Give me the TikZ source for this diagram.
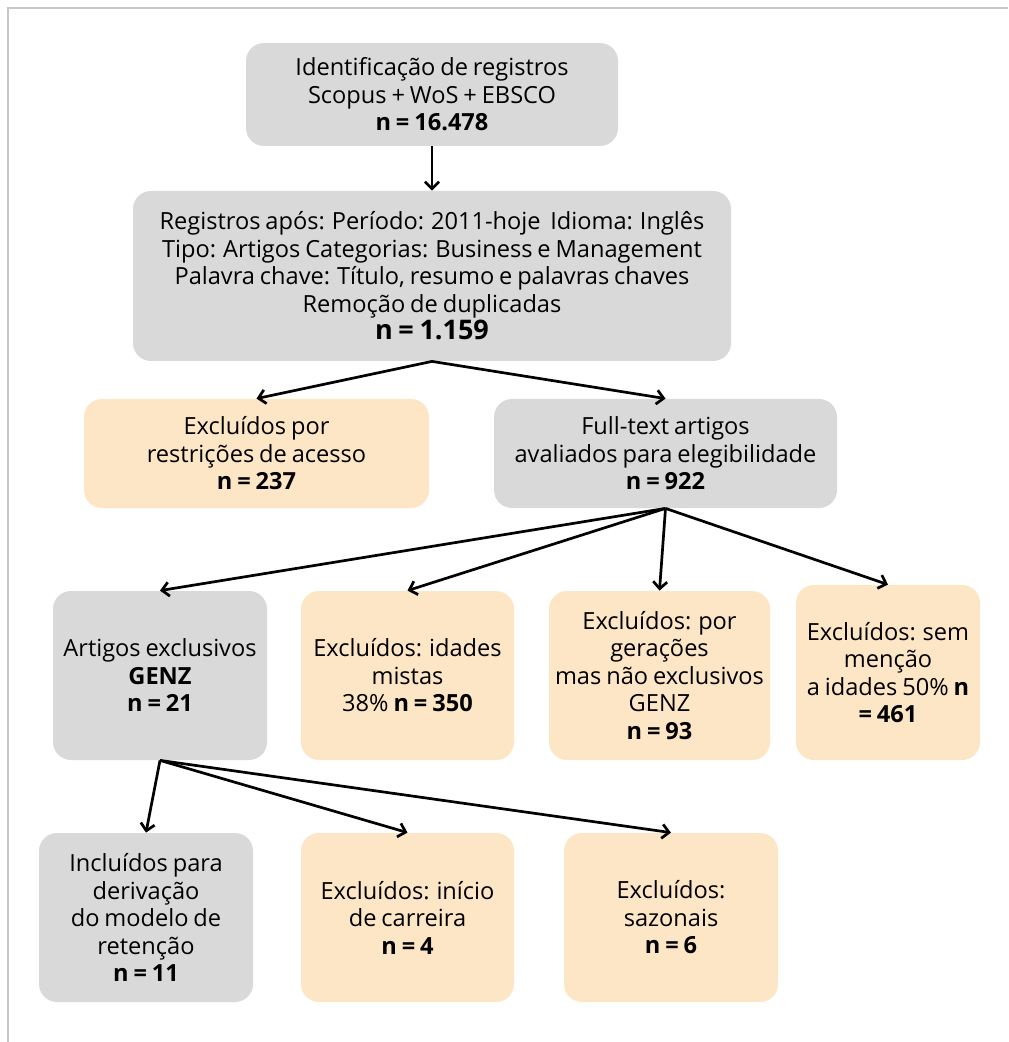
\documentclass[tikz,border=0pt]{standalone}
\usepackage{fontspec}
\setmainfont{Open Sans}[WordSpace=0.8]
\usepackage{tikz}
\usetikzlibrary{positioning,arrows.meta}
\definecolor{boxgrey}{RGB}{217,217,217}
\definecolor{boxpeach}{RGB}{253,230,197}
\definecolor{framegrey}{RGB}{200,200,200}
\tikzset{
	box/.style={rounded corners=9pt, align=center, inner sep=0pt, font=\fontsize{11.8}{13.75}\selectfont},
	greybox/.style={box, fill=boxgrey},
	peachbox/.style={box, fill=boxpeach},
	arr/.style={-{Straight Barb[length=3.5pt,width=7pt]}, line width=1.35pt}
}

\begin{document}
\begin{tikzpicture}[x=0.5pt,y=-0.5pt]
		\useasboundingbox (0,0) rectangle (1008,1042);
		\draw[framegrey, line width=1pt] (8,1042) -- (8,8) -- (1008,8);
		
		\node[greybox, minimum width=186pt, minimum height=51.5pt] (ident) at (432,94.5) {Identificação de registros\\Scopus + WoS + EBSCO\\\textbf{n = 16.478}};
		\node[greybox, minimum width=299pt, minimum height=85pt] (reg) at (432,276) {Registros após: Período: 2011-hoje~ Idioma: Inglês\\Tipo: Artigos Categorias: Business e Management\\Palavra chave: Título, resumo e palavras chaves\\Remoção de duplicadas\\{\fontsize{13.5}{15.5}\selectfont\bfseries n = 1.159}};
		
		\node[peachbox, minimum width=172.5pt, minimum height=54.5pt] (acesso) at (256.5,453.5) {Excluídos por\\restrições de acesso\\\textbf{n = 237}};
		\node[greybox, minimum width=171.5pt, minimum height=54.5pt] (fulltext) at (665.5,453.5) {Full-text artigos\\avaliados para elegibilidade\\\textbf{n = 922}};
		
		\node[greybox, minimum width=107pt, minimum height=84.5pt] (genz) at (160,675.5) {Artigos exclusivos\\\textbf{GENZ}\\\textbf{n = 21}};
		\node[peachbox, minimum width=106.5pt, minimum height=84.5pt] (mistas) at (407.5,675.5) {Excluídos: idades\\mistas\\38\% \textbf{n = 350}};
		\node[peachbox, minimum width=110.5pt, minimum height=84.5pt] (geracoes) at (659.5,675.5) {Excluídos: por\\gerações\\mas não exclusivos\\GENZ\\\textbf{n = 93}};
		\node[peachbox, minimum width=92pt, minimum height=87.5pt] (semmencao) at (888,672.5) {Excluídos: sem\\menção\\a idades 50\% \textbf{n}\\\textbf{= 461}};
		
		\node[greybox, minimum width=107pt, minimum height=84.5pt] (incl) at (146,917.5) {Incluídos para\\derivação\\do modelo de\\retenção\\\textbf{n = 11}};
		\node[peachbox, minimum width=106.5pt, minimum height=84.5pt] (inicio) at (407.5,917.5) {Excluídos: início\\de carreira\\\textbf{n = 4}};
		\node[peachbox, minimum width=107pt, minimum height=84.5pt] (sazonais) at (671,917.5) {Excluídos:\\sazonais\\\textbf{n = 6}};
		
		\draw[arr] (ident) -- (reg);
		\foreach \t in {acesso,fulltext}
			\draw[arr] (reg.south) -- (\t.north);
		\foreach \t in {genz,mistas,geracoes,semmencao}
			\draw[arr] (fulltext.south) -- (\t.north);
		\foreach \t in {incl,inicio,sazonais}
			\draw[arr] (genz.south) -- (\t.north);
	\end{tikzpicture}
\end{document}
